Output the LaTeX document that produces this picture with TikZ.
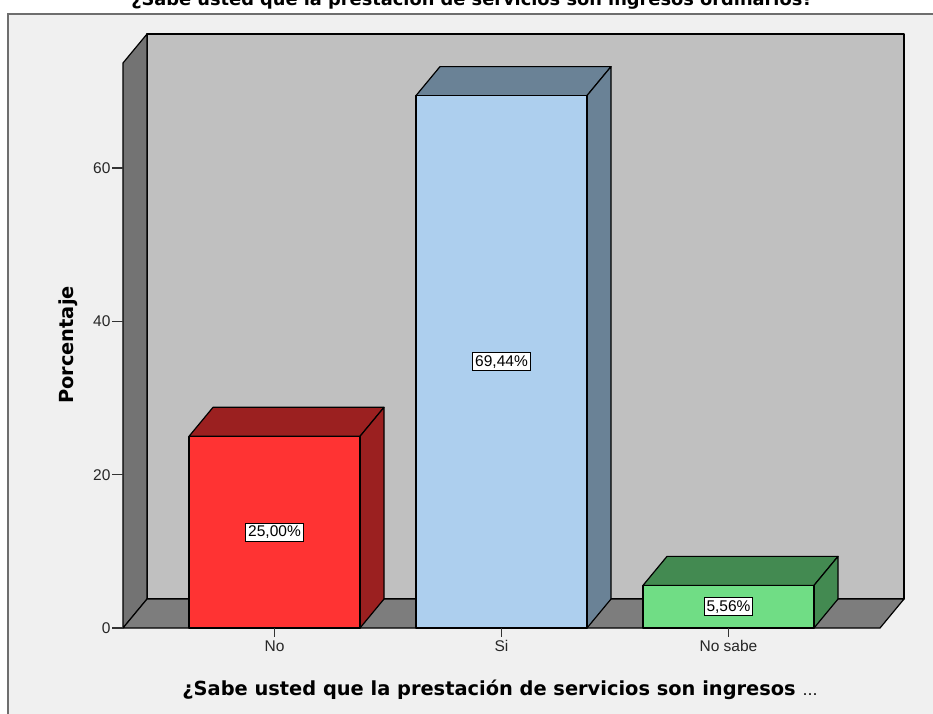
\documentclass[tikz,border=0pt]{standalone}
\usepackage{fontspec}
\setmainfont{Liberation Sans}
\newfontfamily\titlefont{DejaVu Sans}
\usetikzlibrary{calc}

\definecolor{panelgray}{HTML}{F0F0F0}
\definecolor{framegray}{HTML}{6E6E6E}
\definecolor{wallgray}{HTML}{C0C0C0}
\definecolor{sidegray}{HTML}{737373}
\definecolor{floorgray}{HTML}{7D7D7D}
\definecolor{nored}{HTML}{FF3333}
\definecolor{noreddark}{HTML}{9B2020}
\definecolor{siblue}{HTML}{ADCFEE}
\definecolor{sibluedark}{HTML}{6A8296}
\definecolor{nsgreen}{HTML}{70DD85}
\definecolor{nsgreendark}{HTML}{438A51}

\tikzset{
  face/.style={draw=black, line width=1.2pt, line join=round},
  pctbox/.style={draw=black, fill=white, inner sep=2.5pt, line width=1pt,
    font=\fontsize{15.5}{15.5}\selectfont},
  ticklab/.style={font=\fontsize{15.5}{15.5}\selectfont, text=black!85},
  axtitle/.style={font=\titlefont\fontsize{19.4}{19.4}\selectfont\bfseries},
}

% left x, value, front colour, dark colour, name, label
\newcommand{\cubebar}[6]{%
  \path ({#1},628) coordinate (#5bl) ({#1+171},628) coordinate (#5br)
        ({#1},{628-#2*7.667}) coordinate (#5tl) ({#1+171},{628-#2*7.667}) coordinate (#5tr);
  \draw[face, fill=#4] (#5tl) -- ++(24,-29) -- ($(#5tr)+(24,-29)$) -- (#5tr) -- cycle;
  \draw[face, fill=#4] (#5tr) -- ++(24,-29) -- ($(#5br)+(24,-29)$) -- (#5br) -- cycle;
  \draw[face, fill=#3] (#5bl) rectangle (#5tr);
  \node[pctbox] (#5lab) at ($(#5bl)!0.5!(#5tr)$) {#6};
  \draw[line width=1.2pt, black!80] ($(#5bl)!0.5!(#5br)$) -- ++(0,9) coordinate (#5tick);
}

\begin{document}
\begin{tikzpicture}[x=1pt, y=-1pt]
\useasboundingbox (0,0) rectangle (933,713);
\fill[white] (0,0) rectangle (933,713);
% title, cut off at the top as in the source
\node[font=\titlefont\fontsize{17.8}{17.8}\selectfont\bfseries, anchor=base] (title) at (472,5)
  {¿Sabe usted que la prestación de servicios son ingresos ordinarios?};
% panel
\draw[fill=panelgray, draw=framegray, line width=2pt] (8,14) rectangle (945,725);

% walls and floor
\draw[face, fill=wallgray] (147,34) rectangle (904,599);
\draw[face, fill=sidegray] (123,63) -- (147,34) -- (147,599) -- (123,628) -- cycle;
\draw[face, fill=floorgray] (123,628) -- (147,599) -- (904,599) -- (880,628) -- cycle;

% y axis ticks
\foreach \v in {0,20,40,60}{
  \draw[line width=1.2pt, black!80] (123,{628-\v*7.667}) -- ++(-11,0)
    node[ticklab, anchor=east, inner sep=1pt] (y\v) {\v};
}

% bars
\cubebar{189}{25}{nored}{noreddark}{no}{25,00\%}
\cubebar{416}{69.44}{siblue}{sibluedark}{si}{69,44\%}
\cubebar{643}{5.56}{nsgreen}{nsgreendark}{ns}{5,56\%}

% category labels
\node[ticklab, anchor=north] (nocat) at (notick) {No};
\node[ticklab, anchor=north] (sicat) at (sitick) {Si};
\node[ticklab, anchor=north] (nscat) at (nstick) {No sabe};

% axis titles
\node[axtitle, rotate=90] (ytitle) at (68,345) {Porcentaje};
\node[axtitle, anchor=base] (xtitle) at (500,695)
  {¿Sabe usted que la prestación de servicios son ingresos {\mdseries\fontsize{15}{15}\selectfont …}};
\end{tikzpicture}
\end{document}
